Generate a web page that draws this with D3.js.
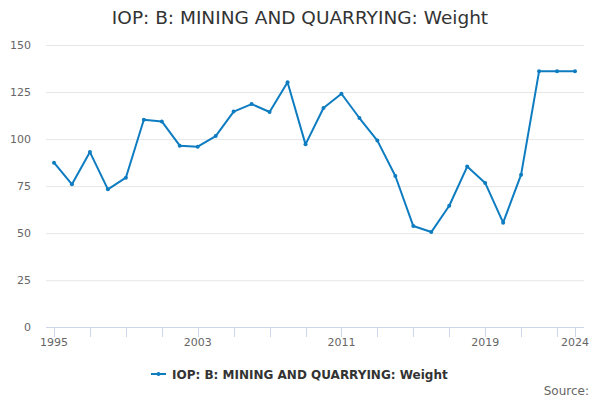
<!DOCTYPE html>
<html>
<head>
<meta charset="utf-8">
<script src="https://cdn.jsdelivr.net/npm/d3@7"></script>
<style>
  body { margin: 0; background: #fff; }
  svg { font-family: "DejaVu Sans", sans-serif; }
</style>
</head>
<body>
<div id="chart"></div>
<script>
var years = [1995, 1996, 1997, 1998, 1999, 2000, 2001, 2002, 2003, 2004,
             2005, 2006, 2007, 2008, 2009, 2010, 2011, 2012, 2013, 2014,
             2015, 2016, 2017, 2018, 2019, 2020, 2021, 2022, 2023, 2024];
var weights = [87.5, 76.0, 93.1, 73.3, 79.5, 110.3, 109.4, 96.5, 96.0, 101.6,
               114.6, 118.6, 114.4, 130.2, 97.2, 116.5, 124.1, 111.2, 99.2, 80.4,
               53.8, 50.6, 64.6, 85.4, 76.7, 55.6, 81.1, 136.0, 136.0, 136.0];
var yTicks = [0, 25, 50, 75, 100, 125, 150];
var xTickMarks = [1995, 1997, 1999, 2001, 2003, 2005, 2007, 2009, 2011, 2013,
                  2015, 2017, 2019, 2021, 2023, 2024];
var xTickLabels = [1995, 2003, 2011, 2019, 2024];
var seriesName = 'IOP: B: MINING AND QUARRYING: Weight';

var width = 600, height = 400;
var lineColor = '#0e7cc1';

var svg = d3.select('#chart').append('svg')
            .attr('width', width)
            .attr('height', height);

var x = d3.scaleLinear().domain([1995, 2024]).range([54, 575]);
var y = d3.scaleLinear().domain([0, 150]).range([327.3, 45]);

// title
svg.append('text')
   .attr('x', width / 2)
   .attr('y', 24)
   .attr('text-anchor', 'middle')
   .attr('fill', '#333333')
   .style('font-size', '18.5px')
   .text(seriesName);

// grid lines
svg.append('g')
   .selectAll('line')
   .data(yTicks.filter(function(d){ return d > 0; }))
   .enter()
   .append('line')
   .attr('x1', 46).attr('x2', 584)
   .attr('y1', function(d){ return y(d) + 0.5; })
   .attr('y2', function(d){ return y(d) + 0.5; })
   .attr('stroke', '#e6e6e6')
   .attr('stroke-width', 1);

// y labels
svg.append('g')
   .selectAll('text')
   .data(yTicks)
   .enter()
   .append('text')
   .attr('x', 31)
   .attr('y', function(d){ return y(d) + 4; })
   .attr('text-anchor', 'end')
   .attr('fill', '#666666')
   .style('font-size', '11px')
   .text(function(d){ return d; });

// x axis line and ticks
svg.append('line')
   .attr('x1', 46).attr('x2', 584)
   .attr('y1', 327.5).attr('y2', 327.5)
   .attr('stroke', '#ccd6eb');

svg.append('g')
   .selectAll('line')
   .data(xTickMarks)
   .enter()
   .append('line')
   .attr('x1', function(d){ return Math.round(x(d)) + 0.5; })
   .attr('x2', function(d){ return Math.round(x(d)) + 0.5; })
   .attr('y1', 327.5).attr('y2', 337)
   .attr('stroke', '#ccd6eb');

svg.append('g')
   .selectAll('text')
   .data(xTickLabels)
   .enter()
   .append('text')
   .attr('x', function(d){ return x(d); })
   .attr('y', 346)
   .attr('text-anchor', 'middle')
   .attr('fill', '#666666')
   .style('font-size', '11px')
   .text(function(d){ return d; });

// series
var data = years.map(function(yr, i){ return {year: yr, value: weights[i]}; });

var line = d3.line()
             .x(function(d){ return x(d.year); })
             .y(function(d){ return y(d.value); });

svg.append('path')
   .datum(data)
   .attr('d', line)
   .attr('fill', 'none')
   .attr('stroke', lineColor)
   .attr('stroke-width', 2)
   .attr('stroke-linejoin', 'round');

svg.append('g')
   .selectAll('circle')
   .data(data)
   .enter()
   .append('circle')
   .attr('cx', function(d){ return x(d.year); })
   .attr('cy', function(d){ return y(d.value); })
   .attr('r', 2)
   .attr('fill', lineColor);

// legend
var legend = svg.append('g');
legend.append('line')
      .attr('x1', 151).attr('x2', 166)
      .attr('y1', 374).attr('y2', 374)
      .attr('stroke', lineColor)
      .attr('stroke-width', 2);
legend.append('circle')
      .attr('cx', 158.5).attr('cy', 374)
      .attr('r', 2)
      .attr('fill', lineColor);
legend.append('text')
      .attr('x', 172)
      .attr('y', 378.5)
      .attr('fill', '#333333')
      .style('font-size', '12px')
      .style('font-weight', 'bold')
      .text(seriesName);

// credits
svg.append('text')
   .attr('x', 589)
   .attr('y', 395)
   .attr('text-anchor', 'end')
   .attr('fill', '#666666')
   .style('font-size', '12px')
   .text('Source:');
</script>
</body>
</html>
